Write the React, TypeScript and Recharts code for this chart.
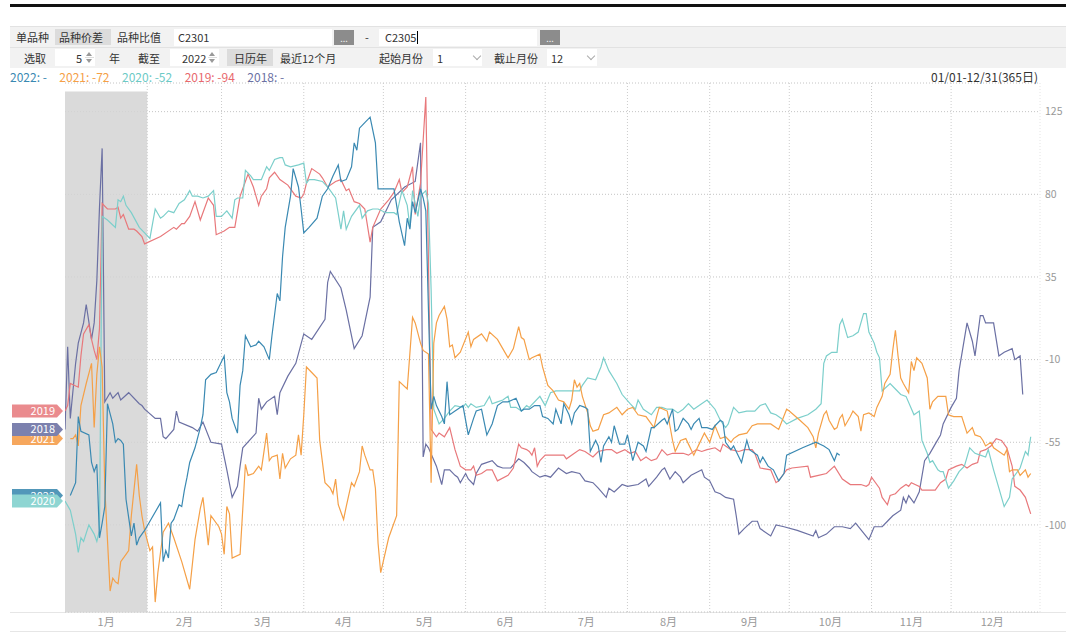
import React from "react";
import {
  LineChart,
  Line,
  XAxis,
  YAxis,
  CartesianGrid,
  ReferenceArea,
  ReferenceLine,
  ReferenceDot,
} from "recharts";

// day of year (0 = 01/01) and spread value, per year
const days2018 = [
  0, 1, 2, 4, 5, 7, 8, 10, 11, 12, 13, 14, 15, 17, 18, 20, 21, 24, 28, 29,
  30, 34, 36, 37, 38, 41, 42, 43, 48, 50, 52, 55, 59, 61, 63, 65, 66, 67, 72, 73,
  74, 76, 79, 80, 81, 84, 87, 90, 93, 98, 99, 100, 104, 106, 109, 112, 113, 115, 116, 119,
  123, 128, 132, 134, 135, 136, 137, 140, 142, 143, 145, 147, 148, 149, 151, 152, 154, 155, 157, 161,
  163, 165, 168, 171, 173, 175, 176, 179, 181, 183, 186, 189, 191, 194, 196, 199, 201, 204, 205, 207,
  210, 212, 216, 219, 220, 223, 225, 226, 228, 230, 232, 233, 236, 240, 241, 243, 245, 247, 249, 252,
  253, 254, 256, 259, 261, 262, 266, 268, 271, 276, 282, 283, 284, 287, 290, 293, 296, 298, 303, 305,
  308, 310, 312, 315, 316, 317, 318, 320, 322, 324, 326, 328, 330, 331, 334, 336, 337, 340, 342, 343,
  345, 346, 347, 350, 352, 354, 357, 358, 360, 361,
];
const vals2018 = [
  -48, -3, -42, -12, -1, 10, 20, 1, 10, 33, 73, 105, -33, -28, -31, -28, -32, -28, -34, -35,
  -37, -42, -42, -52, -53, -48, -38, -44, -47, -49, -44, -55, -56, -70, -85, -79, -68, -58, -50, -31,
  -37, -33, -30, -40, -28, -19, -12, 4, 1, 12, 32, 38, 29, 17, -4, 3, 10, 24, 62, 65,
  77, 84, 87, 108, -63, -56, -58, -68, -78, -70, -70, -73, -74, -77, -72, -75, -78, -72, -67, -65,
  -68, -69, -69, -64, -66, -69, -71, -74, -73, -74, -69, -72, -71, -72, -76, -77, -80, -85, -80, -82,
  -78, -79, -78, -75, -79, -74, -70, -69, -75, -71, -74, -77, -73, -70, -74, -76, -82, -83, -85, -86,
  -95, -105, -102, -98, -98, -102, -106, -100, -101, -103, -106, -103, -107, -105, -101, -101, -102, -99, -108, -101,
  -101, -98, -95, -92, -85, -88, -84, -88, -82, -65, -61, -56, -51, -45, -36, -31, -16, 10, 0, -8,
  14, 14, 10, 10, -8, -6, -4, -10, -8, -29,
];

const days2019 = [
  0, 1, 2, 5, 6, 7, 9, 10, 11, 12, 13, 14, 16, 19, 20, 21, 22, 24, 26, 27,
  29, 30, 36, 41, 42, 44, 45, 47, 49, 51, 54, 56, 57, 60, 62, 64, 66, 67, 69, 71,
  73, 74, 76, 77, 79, 81, 84, 87, 89, 90, 91, 93, 96, 97, 99, 102, 104, 106, 107, 109,
  111, 113, 115, 116, 119, 122, 124, 126, 127, 129, 131, 132, 134, 136, 138, 140, 141, 143, 145, 147,
  149, 151, 153, 154, 155, 157, 159, 161, 163, 167, 169, 171, 172, 174, 175, 176, 177, 178, 179, 181,
  184, 188, 189, 192, 194, 196, 199, 201, 204, 206, 208, 211, 213, 215, 217, 219, 221, 223, 225, 227,
  229, 233, 235, 238, 240, 242, 245, 247, 248, 249, 251, 254, 256, 259, 260, 262, 266, 268, 269, 271,
  272, 274, 280, 281, 284, 287, 290, 293, 296, 300, 302, 303, 304, 307, 308, 310, 311, 313, 315, 317,
  318, 319, 322, 323, 328, 330, 332, 333, 336, 338, 340, 342, 344, 345, 347, 349, 351, 353, 355, 357,
  358, 360, 362, 364,
];
const vals2019 = [
  -38, -35, -23, -25, -8, 4, 9, 1, -5, -10, 7, 75, 72, 72, 73, 67, 69, 61, 61, 60,
  57, 53, 57, 62, 61, 64, 64, 68, 76, 66, 78, 74, 58, 60, 62, 62, 79, 83, 91, 84,
  74, 79, 83, 89, 92, 88, 85, 79, 78, 80, 86, 94, 91, 89, 84, 87, 88, 82, 83, 76,
  75, 72, 54, 62, 72, 77, 81, 88, 81, 84, 95, 69, 86, 133, -48, -52, -50, -52, -47, -59,
  -68, -70, -70, -68, -73, -72, -70, -70, -76, -73, -69, -56, -58, -59, -60, -62, -58, -68, -65, -62,
  -62, -62, -64, -61, -59, -60, -63, -60, -59, -59, -61, -59, -61, -60, -65, -63, -65, -64, -59, -62,
  -61, -61, -62, -59, -60, -59, -58, -60, -56, -57, -59, -60, -59, -59, -61, -69, -70, -77, -76, -72,
  -70, -69, -68, -74, -73, -72, -68, -75, -78, -78, -79, -78, -74, -80, -85, -89, -84, -83, -80, -78,
  -79, -77, -79, -81, -81, -77, -75, -70, -68, -67, -69, -67, -66, -60, -59, -57, -53, -54, -58, -68,
  -79, -81, -85, -94,
];

const days2020 = [
  0, 2, 4, 5, 6, 7, 9, 11, 12, 13, 14, 16, 19, 20, 21, 22, 23, 25, 28, 30,
  32, 34, 36, 37, 39, 41, 43, 45, 47, 48, 50, 52, 54, 56, 57, 59, 61, 63, 64, 65,
  67, 68, 70, 71, 74, 76, 77, 79, 81, 82, 83, 85, 88, 90, 91, 92, 94, 97, 99, 102,
  104, 105, 106, 108, 111, 112, 114, 116, 118, 121, 124, 125, 127, 129, 130, 131, 133, 134, 136, 137,
  138, 139, 141, 143, 145, 147, 150, 151, 152, 153, 155, 158, 160, 161, 163, 165, 167, 168, 170, 172,
  174, 175, 179, 181, 183, 185, 188, 191, 194, 195, 197, 200, 202, 203, 205, 208, 210, 213, 215, 216,
  218, 221, 223, 225, 227, 229, 231, 233, 235, 237, 239, 242, 245, 247, 249, 250, 252, 254, 257, 260,
  262, 264, 266, 268, 270, 272, 276, 280, 283, 285, 286, 287, 289, 291, 292, 293, 295, 297, 299, 301,
  302, 303, 305, 306, 307, 308, 311, 313, 315, 317, 320, 322, 323, 325, 326, 327, 329, 330, 331, 333,
  335, 337, 339, 341, 343, 345, 347, 348, 350, 352, 354, 356, 357, 360, 362, 363, 364,
];
const vals2020 = [
  -87, -92, -105, -115, -107, -109, -100, -105, -109, -103, 68, 66, 62, 77, 76, 79, 74, 70, 62, 59,
  56, 72, 67, 68, 71, 70, 75, 77, 82, 79, 79, 78, 79, 82, 68, 68, 71, 67, 77, 78,
  78, 93, 90, 88, 88, 95, 93, 99, 100, 100, 96, 95, 96, 97, 86, 88, 88, 87, 84, 78,
  61, 71, 61, 68, 74, 67, 71, 72, 72, 70, 70, 69, 82, 74, 62, 82, 68, 79, 82, 75,
  28, -37, -45, -42, -38, -35, -36, -34, -36, -34, -36, -35, -30, -34, -33, -32, -30, -36, -36, -38,
  -35, -36, -30, -35, -28, -27, -27, -27, -27, -24, -20, -21, -14, -9, -16, -23, -29, -34, -37, -32,
  -37, -40, -36, -36, -37, -37, -39, -37, -34, -37, -35, -32, -37, -43, -47, -45, -36, -39, -38, -38,
  -35, -34, -39, -40, -42, -45, -42, -40, -37, -34, -12, -8, -6, -6, 9, 12, 2, 3, 5, 15,
  15, 5, -1, -6, -9, -27, -23, -26, -29, -30, -40, -38, -54, -61, -66, -65, -70, -71, -71, -80,
  -76, -71, -68, -58, -61, -62, -63, -59, -70, -80, -90, -85, -75, -69, -60, -62, -52,
];

const days2021 = [
  2, 3, 4, 5, 6, 8, 10, 11, 12, 13, 14, 15, 17, 18, 19, 20, 21, 23, 24, 25,
  27, 28, 29, 30, 32, 33, 34, 35, 37, 39, 41, 44, 47, 49, 51, 52, 53, 54, 55, 58,
  59, 60, 61, 62, 63, 66, 68, 69, 71, 73, 74, 76, 77, 78, 80, 81, 82, 83, 85, 87,
  88, 89, 90, 91, 93, 95, 96, 98, 100, 101, 102, 103, 105, 106, 108, 109, 111, 112, 113, 115,
  116, 117, 118, 119, 122, 125, 126, 129, 131, 132, 134, 135, 137, 138, 139, 140, 141, 143, 144, 145,
  146, 147, 149, 152, 153, 154, 157, 159, 160, 163, 165, 167, 169, 171, 172, 173, 175, 176, 179, 180,
  182, 184, 186, 188, 190, 191, 192, 193, 194, 195, 197, 198, 199, 201, 203, 205, 208, 210, 212, 214,
  216, 219, 222, 223, 224, 227, 228, 229, 230, 232, 234, 235, 237, 239, 241, 243, 245, 247, 249, 251,
  252, 254, 257, 259, 261, 266, 269, 272, 273, 277, 280, 282, 283, 284, 286, 287, 288, 290, 291, 292,
  293, 294, 296, 297, 299, 300, 301, 303, 305, 306, 308, 309, 311, 312, 313, 314, 315, 316, 318, 319,
  320, 321, 323, 325, 326, 327, 329, 332, 333, 335, 338, 340, 342, 343, 345, 346, 347, 349, 350, 352,
  354, 355, 356, 357, 359, 360, 362, 363, 364,
];
const vals2021 = [
  -53, -53, -51, -57, -35, -23, -12, -47, -18, -3, -14, -80, -136, -129, -131, -132, -120, -116, -114, -95,
  -67, -84, -95, -103, -114, -112, -142, -126, -104, -99, -107, -120, -135, -108, -91, -85, -98, -111, -95, -101,
  -105, -116, -90, -94, -118, -116, -67, -73, -72, -68, -70, -50, -65, -63, -62, -75, -61, -69, -64, -62,
  -51, -62, -40, -14, -17, -20, -54, -77, -80, -83, -75, -89, -97, -90, -77, -79, -71, -57, -62, -70,
  -70, -80, -110, -126, -107, -95, -22, -26, 13, 10, -1, -5, -7, -77, -1, 10, 14, 19, 12, -3,
  -2, -9, -6, 5, -3, 1, 4, 0, 5, 1, -4, -9, -4, 8, 2, 1, -10, -9, -7, -14,
  -24, -27, -32, -33, -37, -32, -21, -25, -23, -30, -39, -46, -49, -48, -40, -39, -36, -40, -37, -36,
  -40, -41, -47, -41, -36, -38, -46, -54, -60, -54, -53, -56, -62, -56, -50, -55, -46, -53, -52, -55,
  -53, -51, -50, -46, -45, -45, -48, -37, -38, -43, -47, -52, -58, -50, -40, -38, -43, -48, -47, -42,
  -40, -46, -41, -38, -41, -49, -40, -39, -41, -36, -30, -23, -18, -5, 6, -8, -20, -23, -28, -11,
  -16, -9, -12, -20, -37, -33, -30, -30, -40, -41, -41, -50, -47, -51, -52, -54, -57, -55, -58, -60,
  -62, -59, -71, -70, -70, -73, -70, -74, -72,
];

const days2022 = [
  2, 4, 5, 6, 9, 10, 11, 12, 13, 14, 15, 16, 18, 19, 20, 21, 22, 23, 25, 26,
  27, 28, 30, 36, 37, 38, 39, 40, 41, 43, 44, 45, 46, 47, 49, 51, 52, 53, 55, 57,
  58, 60, 61, 62, 63, 65, 66, 67, 68, 70, 72, 73, 75, 77, 78, 80, 81, 82, 83, 85,
  86, 88, 89, 90, 92, 95, 97, 99, 101, 103, 104, 106, 108, 109, 110, 111, 113, 115, 117, 118,
  122, 124, 126, 128, 129, 130, 131, 132, 134, 135, 136, 138, 139, 140, 142, 143, 144, 145, 147, 148,
  150, 152, 154, 155, 157, 158, 159, 161, 162, 163, 165, 167, 170, 172, 173, 175, 177, 179, 180, 182,
  184, 185, 187, 188, 190, 191, 192, 194, 196, 197, 198, 200, 201, 202, 203, 205, 206, 207, 209, 211,
  212, 213, 214, 216, 218, 219, 221, 222, 225, 226, 227, 229, 230, 231, 233, 235, 236, 237, 239, 240,
  242, 244, 245, 247, 248, 249, 251, 252, 253, 255, 257, 258, 261, 262, 263, 265, 267, 269, 271, 272,
  278, 283, 286, 288, 290, 291, 292,
];
const vals2022 = [
  -84, -77, -41, -49, -51, -66, -71, -67, -107, -99, -90, -34, -45, -55, -53, -54, -56, -86, -106, -99,
  -111, -107, -103, -88, -120, -114, -118, -99, -97, -89, -90, -81, -74, -66, -58, -47, -40, -21, -18, -17,
  -14, -8, -28, -33, -42, -50, -24, -16, 3, -3, -2, 0, -3, -10, 3, 26, 22, 46, 62, 79,
  94, 84, 72, 59, 62, 67, 79, 83, 90, 96, 87, 88, 95, 108, 104, 116, 119, 122, 108, 83,
  83, 83, 65, 52, 67, 61, 76, 70, 83, 78, 71, -37, -30, -35, -41, -45, -22, -40, -38, -37,
  -35, -51, -42, -38, -37, -44, -51, -45, -40, -35, -33, -33, -31, -38, -37, -37, -35, -35, -41, -42,
  -45, -37, -45, -34, -40, -45, -39, -35, -36, -37, -60, -54, -57, -66, -57, -52, -55, -46, -56, -56,
  -51, -58, -65, -55, -57, -60, -47, -47, -43, -42, -45, -37, -49, -48, -42, -45, -48, -45, -42, -47,
  -47, -48, -46, -43, -44, -55, -59, -57, -60, -66, -54, -59, -62, -66, -63, -68, -70, -76, -72, -62,
  -58, -55, -57, -59, -65, -61, -62,
];

const monthStarts = [31, 59, 90, 120, 151, 181, 212, 243, 273, 304, 334];
const monthMids = [15.5, 45, 74.5, 105, 135.5, 166, 196.5, 227.5, 258, 288.5, 319, 349.5];
const monthLabels = ["1月", "2月", "3月", "4月", "5月", "6月", "7月", "8月", "9月", "10月", "11月", "12月"];
const yTicks = [-100, -55, -10, 35, 80, 125];
const legendTexts = ["2022: -", "2021: -72", "2020: -52", "2019: -94", "2018: -"];

const rows = (days: number[], vals: number[]) => days.map((d, i) => ({ d, v: vals[i] }));

const series = [
  { name: "2018", color: "#6b70a3", tag: "#7c81ae", data: rows(days2018, vals2018) },
  { name: "2019", color: "#e8787b", tag: "#ea8b8e", data: rows(days2019, vals2019) },
  { name: "2020", color: "#7ccfcb", tag: "#8ed5d2", data: rows(days2020, vals2020) },
  { name: "2021", color: "#f5a047", tag: "#f6a75d", data: rows(days2021, vals2021) },
  { name: "2022", color: "#3a89b2", tag: "#5297b9", data: rows(days2022, vals2022) },
];
const byName = (n: string) => series.find((s) => s.name === n)!;
const tagOrder = ["2019", "2021", "2018", "2022", "2020"];
const legendColors = ["#3a89b2", "#f5a047", "#6ccac6", "#e8686d", "#6b70a3"];

const FONT = "'Microsoft YaHei', 'Noto Sans CJK SC', sans-serif";

const Tag = (props: any) => {
  const { cx, cy, fill, label } = props;
  if (cx == null || cy == null) return null;
  const l = cx - 53;
  const r = cx - 8;
  const t = cy - 6.5;
  const b = cy + 6.5;
  return (
    <g>
      <path d={`M${l},${t}L${r},${t}L${cx - 2},${cy}L${r},${b}L${l},${b}Z`} fill={fill} />
      <text x={cx - 10} y={cy + 4} textAnchor="end" fill="#fff" fontSize={11} fontFamily={FONT}>
        {label}
      </text>
    </g>
  );
};

const T = ({ x, y, children, size = 11, color = "#333" }: any) => (
  <div
    style={{
      position: "absolute",
      left: x,
      top: y - 8,
      height: 16,
      lineHeight: "16px",
      fontSize: size,
      color,
      whiteSpace: "nowrap",
    }}
  >
    {children}
  </div>
);

const Box = ({ x, y, w, h, bg = "#fff" }: any) => (
  <div style={{ position: "absolute", left: x, top: y, width: w, height: h, background: bg }} />
);

const Spinner = ({ x, y }: any) => (
  <div style={{ position: "absolute", left: x, top: y, width: 9, height: 15 }}>
    <div style={{ position: "absolute", left: 1, top: 2, width: 0, height: 0, borderLeft: "3.5px solid transparent", borderRight: "3.5px solid transparent", borderBottom: "4px solid #999" }} />
    <div style={{ position: "absolute", left: 0, top: 7, width: 9, height: 1, background: "#ddd" }} />
    <div style={{ position: "absolute", left: 1, top: 9, width: 0, height: 0, borderLeft: "3.5px solid transparent", borderRight: "3.5px solid transparent", borderTop: "4px solid #999" }} />
  </div>
);

const Chevron = ({ x, y }: any) => (
  <div
    style={{
      position: "absolute",
      left: x,
      top: y,
      width: 5,
      height: 5,
      borderRight: "1px solid #aaa",
      borderBottom: "1px solid #aaa",
      transform: "rotate(45deg)",
    }}
  />
);

const DotsButton = ({ x }: any) => (
  <div
    style={{
      position: "absolute",
      left: x,
      top: 30,
      width: 20,
      height: 15,
      background: "#8c8c8c",
      color: "#f0f0f0",
      fontSize: 9,
      lineHeight: "17px",
      textAlign: "center",
    }}
  >
    ...
  </div>
);

const App: React.FC = () => {
  return (
    <div
      style={{
        position: "absolute",
        left: 0,
        top: 0,
        width: 1066,
        height: 640,
        background: "#fff",
        overflow: "hidden",
        fontFamily: FONT,
      }}
    >
      <Box x={10} y={4} w={1056} h={3} bg="#111" />

      {/* toolbar */}
      <div style={{ position: "absolute", left: 10, top: 26, width: 1056, height: 20, background: "#f2f2f2", borderTop: "1px solid #e2e2e2" }} />
      <div style={{ position: "absolute", left: 10, top: 47, width: 1056, height: 20, background: "#f2f2f2", borderTop: "1px solid #e2e2e2" }} />

      <T x={16} y={37}>单品种</T>
      <Box x={55} y={29} w={56} h={16} bg="#dcdcdc" />
      <T x={59} y={37}>品种价差</T>
      <T x={117} y={37}>品种比值</T>
      <Box x={174} y={29} w={158} h={17} />
      <T x={178} y={37}>C2301</T>
      <DotsButton x={334} />
      <T x={365} y={37}>-</T>
      <Box x={379} y={29} w={158} h={17} />
      <T x={385} y={37}>C2305</T>
      <Box x={417} y={31} w={1} h={13} bg="#000" />
      <DotsButton x={540} />

      <T x={24} y={58}>选取</T>
      <Box x={55} y={49} w={40} h={17} />
      <T x={76} y={58}>5</T>
      <Spinner x={85} y={50} />
      <T x={109} y={58}>年</T>
      <T x={138} y={58}>截至</T>
      <Box x={170} y={49} w={49} h={17} />
      <T x={182} y={58}>2022</T>
      <Spinner x={208} y={50} />
      <Box x={227} y={49} w={46} h={17} bg="#dcdcdc" />
      <T x={234} y={58}>日历年</T>
      <T x={280} y={58}>最近12个月</T>
      <T x={379} y={58}>起始月份</T>
      <Box x={433} y={49} w={49} h={17} />
      <T x={437} y={58}>1</T>
      <Chevron x={474} y={53} />
      <T x={494} y={58}>截止月份</T>
      <Box x={547} y={49} w={50} h={17} />
      <T x={551} y={58}>12</T>
      <Chevron x={588} y={53} />

      {/* legend row */}
      <div style={{ position: "absolute", left: 10, top: 69, height: 16, lineHeight: "16px", fontSize: 12, whiteSpace: "nowrap" }}>
        {legendTexts.map((t, i) => (
          <span key={t} style={{ color: legendColors[i], marginRight: 12.5 }}>
            {t}
          </span>
        ))}
      </div>
      <div style={{ position: "absolute", right: 28, top: 69, height: 16, lineHeight: "16px", fontSize: 12, color: "#333" }}>
        01/01-12/31(365日)
      </div>

      {/* axis band */}
      <Box x={10} y={612} w={1056} h={1} bg="#e6e6e6" />
      <Box x={10} y={631} w={1056} h={1} bg="#e6e6e6" />

      <div style={{ position: "absolute", left: 0, top: 0 }}>
        <LineChart width={1066} height={632} margin={{ top: 83, right: 0, bottom: 0, left: 65 }}>
          <ReferenceArea x1={0} x2={31} y1={-147.4} y2={136} fill="#d4d4d4" fillOpacity={0.85} stroke="none" ifOverflow="hidden" />
          <CartesianGrid vertical={false} stroke="#c4c4c4" strokeDasharray="1 2" />
          {monthStarts.map((m) => (
            <ReferenceLine key={m} x={m} stroke="#cccccc" strokeDasharray="1 2" />
          ))}
          <XAxis
            type="number"
            dataKey="d"
            domain={[0, 367.5]}
            ticks={monthMids}
            interval={0}
            tickFormatter={(v: number) => monthLabels[monthMids.indexOf(v)] ?? ""}
            axisLine={false}
            tickLine={false}
            tickSize={0}
            tickMargin={6}
            height={20}
            allowDataOverflow
            tick={{ fill: "#999", fontSize: 11, fontFamily: FONT }}
          />
          <YAxis
            orientation="right"
            type="number"
            domain={[-147.4, 140.6]}
            ticks={yTicks}
            interval={0}
            width={26}
            axisLine={{ stroke: "#e4e4e4", strokeDasharray: "1 2" }}
            tickLine={false}
            tickSize={0}
            tickMargin={5}
            allowDataOverflow
            tick={{ fill: "#999", fontSize: 10.5, fontFamily: FONT }}
          />
          {series.map((s) => (
            <Line
              key={s.name}
              data={s.data}
              dataKey="v"
              type="linear"
              stroke={s.color}
              strokeWidth={1.2}
              dot={false}
              activeDot={false}
              isAnimationActive={false}
            />
          ))}
          {tagOrder.map((n) => {
            const s = byName(n);
            return (
              <ReferenceDot
                key={n}
                x={0}
                y={s.data[0].v}
                r={0}
                ifOverflow="visible"
                shape={(p: any) => <Tag {...p} fill={s.tag} label={n} />}
              />
            );
          })}
        </LineChart>
      </div>
    </div>
  );
};

export default App;
